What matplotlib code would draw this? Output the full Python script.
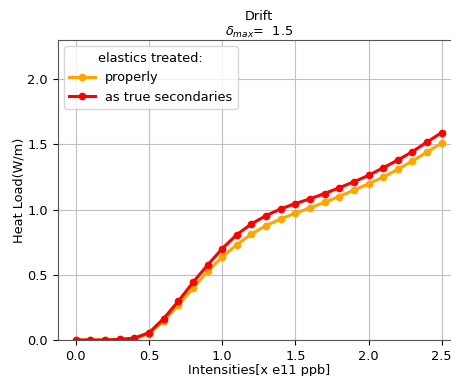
import numpy as np
import matplotlib
matplotlib.use('Agg')
import matplotlib.pyplot as plt

# Intensities in units of 1e11 ppb
intensities = [0.0, 0.1, 0.2, 0.3, 0.4, 0.5, 0.6, 0.7, 0.8, 0.9, 1.0, 1.1, 1.2,
               1.3, 1.4, 1.5, 1.6, 1.7, 1.8, 1.9, 2.0, 2.1, 2.2, 2.3, 2.4, 2.5]

# Heat load (W/m), elastics treated properly
heat_properly = [0.0, 0.0, 0.0, 0.003, 0.01, 0.049, 0.144, 0.267, 0.397, 0.526,
                 0.636, 0.731, 0.813, 0.877, 0.928, 0.972, 1.013, 1.056, 1.100,
                 1.149, 1.197, 1.249, 1.308, 1.372, 1.441, 1.510]

# Heat load (W/m), elastics as true secondaries
heat_true_sec = [0.0, 0.0, 0.0, 0.005, 0.015, 0.056, 0.164, 0.297, 0.441, 0.574,
                 0.700, 0.808, 0.890, 0.954, 1.005, 1.046, 1.082, 1.123, 1.167,
                 1.213, 1.262, 1.320, 1.379, 1.444, 1.518, 1.590]

plt.rcParams['font.size'] = 9.3

fig = plt.figure(figsize=(4.51, 3.76), dpi=100)
ax = fig.add_axes([0.1275, 0.0957, 0.8925, 0.798])

ax.plot(intensities, heat_properly, '.-', color='orange', lw=2.2, ms=9,
        label='properly')
ax.plot(intensities, heat_true_sec, '.-', color='red', lw=2.2, ms=9,
        label='as true secondaries')

ax.set_ylim(0, 2.3)
ax.set_xlim(-0.125, 2.625)
ax.set_xticks([0.0, 0.5, 1.0, 1.5, 2.0, 2.5])
ax.set_yticks([0.0, 0.5, 1.0, 1.5, 2.0])
ax.grid(True, color='#c0c0c0', lw=0.8)
ax.set_axisbelow(True)

for s in ax.spines.values():
    s.set_color('#555555')

ax.set_xlabel('Intensities[x e11 ppb]', labelpad=1)
ax.set_ylabel('Heat Load(W/m)', labelpad=1)
ax.set_title('Drift\n$\\delta_{max}$=  1.5', fontsize=9.3, pad=3)
ax.legend(title='elastics treated:', loc='upper left', fontsize=9.3,
          title_fontsize=9.3)

plt.savefig('out.png', dpi=100)
